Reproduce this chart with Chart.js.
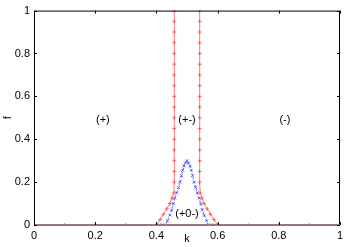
<!DOCTYPE html>
<html>
<head>
<meta charset="utf-8">
<script src="https://cdn.jsdelivr.net/npm/chart.js@4"></script>
<style>
  html, body { margin: 0; padding: 0; background: #fff; }
  #wrap { width: 353px; height: 247px; }
</style>
</head>
<body>
<div id="wrap"><canvas id="chart"></canvas></div>
<script>
// ---- data ----
const kTicks = [0, 0.2, 0.4, 0.6, 0.8, 1];
const fTicks = [0, 0.2, 0.4, 0.6, 0.8, 1];

// red (+) boundary, bottom parts along f = 0
const redBottomLeftK = [0, 0.1, 0.2, 0.3, 0.4];
const redBottomRightK = [0.6, 0.7, 0.8, 0.9, 1];

// red left branch
const redLeftK = [0.4, 0.412, 0.423, 0.434, 0.444, 0.451, 0.457, 0.4585, 0.4585, 0.4585, 0.4585,
  0.4585, 0.4585, 0.4585, 0.4585, 0.4585, 0.4585, 0.4585, 0.4585, 0.4585, 0.4585, 0.4585, 0.4585, 0.4585];
const redLeftF = [0, 0.025, 0.05, 0.075, 0.1, 0.125, 0.15, 0.2, 0.25,
  0.3, 0.35, 0.4, 0.45, 0.5, 0.55, 0.6, 0.65, 0.7, 0.75, 0.8, 0.85, 0.9, 0.95, 1];

// red right branch
const redRightK = [0.6, 0.588, 0.577, 0.566, 0.556, 0.549, 0.543, 0.5415, 0.5415, 0.5415, 0.5415,
  0.5415, 0.5415, 0.5415, 0.5415, 0.5415, 0.5415, 0.5415, 0.5415, 0.5415, 0.5415, 0.5415, 0.5415, 0.5415];
const redRightF = [0, 0.025, 0.05, 0.075, 0.1, 0.125, 0.15, 0.2, 0.25,
  0.3, 0.35, 0.4, 0.45, 0.5, 0.55, 0.6, 0.65, 0.7, 0.75, 0.8, 0.85, 0.9, 0.95, 1];

// blue (+0-) dome
const blueK = [0.41, 0.42, 0.43, 0.436, 0.444, 0.45, 0.455, 0.46, 0.466, 0.472, 0.477, 0.482, 0.486, 0.49, 0.495, 0.5,
  0.505, 0.51, 0.514, 0.518, 0.523, 0.528, 0.534, 0.54, 0.545, 0.55, 0.556, 0.564, 0.57, 0.58, 0.59];
const blueF = [0, 0, 0, 0.02, 0.046, 0.07, 0.1, 0.125, 0.15, 0.175, 0.2, 0.23, 0.255, 0.275, 0.29, 0.3,
  0.29, 0.275, 0.255, 0.23, 0.2, 0.175, 0.15, 0.125, 0.1, 0.07, 0.046, 0.02, 0, 0, 0];

// region labels
const regionText = ['(+)', '(+-)', '(-)', '(+0-)'];
const regionK = [0.225, 0.5, 0.82, 0.5];
const regionF = [0.49, 0.49, 0.49, 0.05];

const FONT = 'Liberation Sans, Arial, sans-serif';
const RED = 'rgba(255, 40, 40, 0.6)';
const BLUE = 'rgba(50, 50, 255, 0.75)';

const pts = (ks, fs) => ks.map((k, i) => ({ x: k, y: fs[i] }));

const redStyle = {
  borderColor: RED, borderWidth: 1, showLine: true,
  pointStyle: 'cross', pointRadius: 2, pointBorderColor: RED, pointBorderWidth: 1,
  pointBackgroundColor: RED
};

// draws the frame, inward ticks and free text like gnuplot does
const framePlugin = {
  id: 'frame',
  afterDatasetsDraw(chart) {
    const { ctx, chartArea: a, scales: { x, y } } = chart;
    ctx.save();
    ctx.strokeStyle = '#000';
    ctx.lineWidth = 1;
    ctx.strokeRect(a.left + 0.5, a.top + 0.5, a.right - a.left - 1, a.bottom - a.top);
    // bottom border gets the red f=0 line on top of it
    ctx.strokeStyle = 'rgba(150, 120, 120, 1)';
    ctx.lineWidth = 2;
    ctx.beginPath();
    ctx.moveTo(a.left, a.bottom);
    ctx.lineTo(a.right, a.bottom);
    ctx.stroke();
    ctx.strokeStyle = '#000';
    ctx.lineWidth = 1;
    ctx.beginPath();
    kTicks.forEach(k => {
      const px = Math.round(x.getPixelForValue(k)) + 0.5;
      ctx.moveTo(px, a.bottom); ctx.lineTo(px, a.bottom - 3);
      ctx.moveTo(px, a.top); ctx.lineTo(px, a.top + 3);
    });
    fTicks.forEach(f => {
      const py = Math.round(y.getPixelForValue(f)) + 0.5;
      ctx.moveTo(a.left, py); ctx.lineTo(a.left + 3, py);
      ctx.moveTo(a.right, py); ctx.lineTo(a.right - 3, py);
    });
    ctx.stroke();

    ctx.fillStyle = '#000';
    ctx.font = '11px ' + FONT;
    ctx.textAlign = 'center';
    ctx.textBaseline = 'middle';
    regionText.forEach((t, i) => {
      ctx.fillText(t, x.getPixelForValue(regionK[i]), y.getPixelForValue(regionF[i]));
    });
    // axis titles
    ctx.fillText('k', (a.left + a.right) / 2, 239);
    ctx.translate(8, (a.top + a.bottom) / 2);
    ctx.rotate(-Math.PI / 2);
    ctx.fillText('f', 0, 0);
    ctx.restore();
  }
};

new Chart(document.getElementById('chart'), {
  type: 'scatter',
  data: {
    datasets: [
      { ...redStyle, data: pts(redBottomLeftK, redBottomLeftK.map(() => 0)) },
      { ...redStyle, data: pts(redBottomRightK, redBottomRightK.map(() => 0)) },
      { ...redStyle, data: pts(redLeftK, redLeftF) },
      { ...redStyle, data: pts(redRightK, redRightF) },
      {
        data: pts(blueK, blueF), showLine: true,
        borderColor: BLUE, borderWidth: 1, borderDash: [2, 2],
        pointStyle: 'crossRot', pointRadius: 2, pointBorderColor: BLUE, pointBorderWidth: 1
      }
    ]
  },
  options: {
    responsive: true,
    maintainAspectRatio: false,
    animation: false,
    layout: { padding: { top: 8, right: 13, left: 0, bottom: 0 } },
    plugins: { legend: { display: false }, tooltip: { enabled: false } },
    scales: {
      x: {
        type: 'linear', min: 0, max: 1,
        afterFit: s => { s.height = 22; },
        afterBuildTicks: s => { s.ticks = kTicks.map(v => ({ value: v })); },
        grid: { display: false, drawTicks: false },
        border: { display: false },
        ticks: { color: '#000', font: { family: FONT, size: 11 }, padding: 4, maxRotation: 0,
          callback: v => String(v) }
      },
      y: {
        type: 'linear', min: 0, max: 1,
        afterFit: s => { s.width = 34; },
        afterBuildTicks: s => { s.ticks = fTicks.map(v => ({ value: v })); },
        grid: { display: false, drawTicks: false },
        border: { display: false },
        ticks: { color: '#000', font: { family: FONT, size: 11 }, padding: 4,
          callback: v => String(v) }
      }
    }
  },
  plugins: [framePlugin]
});
</script>
</body>
</html>
